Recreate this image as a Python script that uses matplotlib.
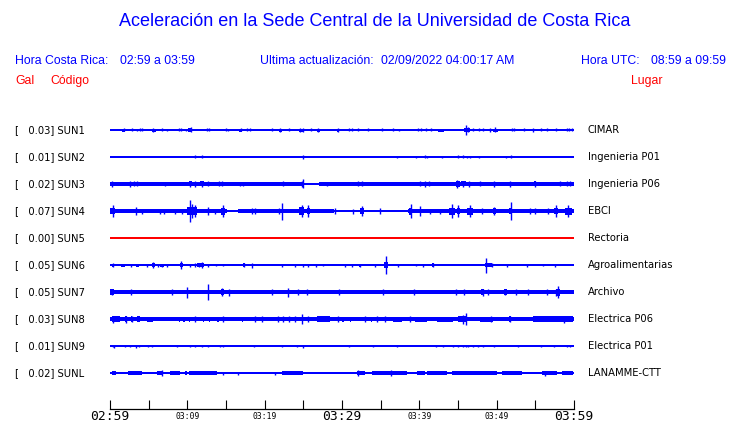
import matplotlib
matplotlib.use("Agg")
import matplotlib.pyplot as plt
from matplotlib.ticker import FixedLocator, FixedFormatter

# ---------------- data ----------------
TITLE = "Aceleración en la Sede Central de la Universidad de Costa Rica"
HORA_CR = "02:59 a 03:59"
ULTIMA = "02/09/2022 04:00:17 AM"
HORA_UTC = "08:59 a 09:59"

codes = ["SUN1", "SUN2", "SUN3", "SUN4", "SUN5", "SUN6", "SUN7", "SUN8", "SUN9", "SUNL"]
gal = [0.03, 0.01, 0.02, 0.07, 0.00, 0.05, 0.05, 0.03, 0.01, 0.02]
places = ["CIMAR", "Ingenieria P01", "Ingenieria P06", "EBCI", "Rectoria",
          "Agroalimentarias", "Archivo", "Electrica P06", "Electrica P01", "LANAMME-CTT"]
trace_colors = ["#0000ff"] * 4 + ["#ff0000"] + ["#0000ff"] * 5

major_ticks = [0, 30, 60]                   # minutes after 02:59
major_labels = ["02:59", "03:29", "03:59"]
minor_ticks = [5, 10, 15, 20, 25, 35, 40, 45, 50, 55]
minor_labels = ["", "03:09", "", "03:19", "", "", "03:39", "", "03:49", ""]

# envelope of each trace: base band (t0, t1, half-amplitude px),
# bursts (t0, t1, half-amplitude px), spikes (t, half-amplitude px)
base_SUN1 = [(0, 60, 0.75)]
bursts_SUN1 = [(1.6, 2.0, 1.5), (5.4, 5.9, 1.5), (10.1, 10.6, 1.8), (16.7, 17.1, 1.5),
               (21.8, 22.2, 1.5), (24.4, 25.1, 1.5), (26.8, 27.1, 1.5), (29.3, 29.6, 1.5),
               (42.4, 43.2, 1.5), (45.8, 46.5, 2.0), (49.5, 50.2, 1.5)]
spikes_SUN1 = [(1.8, 1.5), (2.8, 1.5), (3.45, 1.2), (3.9, 1.5), (4.1, 1.5), (5.6, 2), (6.75, 1.5),
               (7.35, 1.2), (8.9, 1.5), (9.15, 1.5), (9.8, 1.2), (10.45, 2.5), (12.5, 1.5),
               (12.85, 1.5), (14.95, 1.5), (15.3, 1.2), (16.9, 1.5), (17.75, 1.5), (18.15, 1.5),
               (20.9, 1.5), (22.0, 1.8), (23.1, 1.5), (24.55, 2), (25.0, 2), (25.95, 1.5),
               (26.95, 1.8), (29.5, 1.8), (30.95, 1.5), (31.25, 1.5), (32.1, 1.5), (33.4, 1.5),
               (35.15, 1.5), (36.65, 1.5), (37.4, 1.2), (39.85, 1.5), (40.2, 1.5), (40.85, 1.5),
               (41.45, 1.5), (46.05, 5), (46.35, 2.5), (46.9, 1.5), (47.7, 1.5), (48.25, 1.5),
               (49.2, 2), (49.8, 2.5), (51.95, 1.5), (52.2, 1.5), (53.55, 1.5), (54.65, 1.8),
               (55.75, 1.5), (56.55, 1.5), (57.65, 1.5), (59.05, 1.5), (59.4, 1.5), (59.7, 1.5)]

base_SUN2 = [(0, 60, 0.65)]
bursts_SUN2 = []
spikes_SUN2 = [(10.95, 1.5), (11.95, 1.5), (25.0, 2), (37.05, 1), (39.55, 1), (40.75, 1.5),
               (40.95, 1), (42.95, 1), (44.95, 1.5), (45.6, 1.5), (46.15, 1.2), (46.5, 1.2),
               (47.75, 1), (51.15, 1), (51.8, 1.5)]

base_SUN3 = [(0, 25.1, 1.9), (25.1, 27.0, 0.65), (27.0, 60, 1.9)]
bursts_SUN3 = [(0.0, 0.4, 2.4), (10.2, 10.6, 2.5), (11.7, 12.2, 2.5), (44.8, 45.2, 2.9),
               (45.4, 46.0, 2.5), (54.8, 55.1, 2.5)]
spikes_SUN3 = [(0.2, 2.8), (2.6, 2.8), (3.15, 2.5), (3.55, 2.5), (7.1, 2.2), (10.35, 2.8),
               (11.0, 3), (11.95, 2.8), (12.65, 2.5), (14.15, 2.5), (14.5, 2.5), (16.8, 2.2),
               (17.25, 2.2), (22.35, 2.5), (24.8, 3), (25.0, 4.5), (28.0, 2.2), (32.1, 2.5),
               (32.55, 2.5), (40.1, 2.5), (40.75, 2.8), (41.25, 2.5), (44.9, 4.2), (45.65, 2.8),
               (46.4, 2.8), (47.9, 2.5), (49.7, 2.8), (51.75, 2.8), (54.95, 2.8), (58.2, 2.5),
               (59.05, 2.5), (59.45, 2.5)]

base_SUN4 = [(0, 15.1, 2.0), (15.1, 16.6, 0.75), (16.6, 29.0, 2.0), (29.0, 38.5, 1.3), (38.5, 60, 2.1)]
bursts_SUN4 = [(0.0, 0.7, 3.0), (9.9, 11.3, 4.0), (14.3, 14.9, 3.5), (24.5, 25.1, 4.0),
               (25.5, 25.9, 3.0), (32.3, 32.9, 2.8), (38.7, 39.1, 3.5), (43.9, 44.6, 3.5),
               (44.9, 45.3, 3.0), (46.2, 46.9, 3.5), (49.5, 49.9, 2.8), (51.6, 52.0, 3.0),
               (57.4, 57.9, 3.0), (58.9, 59.7, 3.5)]
spikes_SUN4 = [(0.35, 6.3), (3.35, 4), (4.1, 2.5), (6.5, 2.5), (7.0, 2.5), (8.4, 2.5), (9.3, 2.5),
               (10.35, 11), (10.6, 7), (11.0, 6), (12.65, 4), (13.6, 2.5), (14.55, 6), (18.3, 3),
               (18.75, 3), (21.9, 3), (22.2, 8.5), (24.8, 6), (25.65, 6), (29.1, 3), (31.45, 2.5),
               (32.55, 5), (34.9, 3), (38.9, 7), (40.1, 5), (41.4, 2.5), (42.65, 2.5), (44.2, 7),
               (45.05, 6), (46.55, 6), (48.05, 3), (49.65, 4), (51.8, 9), (54.3, 3), (54.95, 3),
               (56.7, 3), (57.65, 6), (59.25, 6)]

base_SUN5 = [(0, 60, 0.8)]
bursts_SUN5 = []
spikes_SUN5 = []

base_SUN6 = [(0, 60, 0.75)]
bursts_SUN6 = [(0.2, 0.5, 1.5), (1.4, 1.9, 1.5), (3.4, 3.8, 1.5), (5.4, 5.8, 2.0), (6.5, 7.0, 1.5),
               (9.0, 9.5, 2.2), (11.3, 12.1, 1.8), (17.2, 17.5, 1.8), (32.2, 32.5, 1.5),
               (35.4, 36.0, 2.6), (41.6, 41.9, 1.8), (43.5, 44.6, 1.4), (44.8, 46.4, 1.4),
               (46.9, 47.4, 1.4), (48.5, 49.4, 1.6), (55.8, 56.1, 1.2), (57.4, 57.7, 1.4),
               (59.0, 59.9, 1.4)]
spikes_SUN6 = [(0.35, 2), (2.7, 1.5), (4.75, 1.5), (5.6, 2.8), (6.25, 1.5), (6.75, 1.5), (7.35, 1.5),
               (9.2, 3.7), (10.35, 1.5), (11.0, 1.8), (11.5, 1.8), (11.95, 3), (12.7, 1.5),
               (13.7, 1.2), (14.65, 1.2), (17.35, 2), (18.3, 2.5), (22.2, 1.5), (23.9, 1.5),
               (24.9, 1.5), (25.65, 1.5), (26.65, 1.5), (27.5, 1.2), (30.4, 1.5), (31.25, 1.5),
               (32.35, 1.5), (34.25, 1.5), (35.7, 8.7), (37.3, 1.5), (39.55, 1.2), (40.5, 1.5),
               (41.75, 2), (48.6, 7.5), (49.35, 2), (51.3, 1.5), (53.9, 1.5), (55.95, 1.2),
               (57.55, 1.5)]

base_SUN7 = [(0, 60, 2.4)]
bursts_SUN7 = [(0.0, 0.5, 2.9), (14.3, 14.7, 3.0), (48.0, 48.4, 3.0), (51.0, 51.3, 3.0),
               (57.7, 58.2, 3.5)]
spikes_SUN7 = [(0.2, 3), (2.7, 2.8), (8.0, 3), (9.9, 5.5), (12.65, 8.3), (14.45, 4), (15.45, 3.5),
               (20.9, 2.7), (23.05, 4.5), (24.35, 3), (25.45, 2.7), (29.65, 2.8), (35.25, 3),
               (39.3, 2.7), (44.7, 2.7), (45.8, 2.7), (48.2, 3.5), (48.9, 3), (51.1, 3), (52.5, 3),
               (54.1, 3), (56.45, 2.7), (57.7, 3.5), (57.95, 6)]

base_SUN8 = [(0, 60, 2.15)]
bursts_SUN8 = [(0.2, 1.3, 2.7), (1.9, 2.2, 3.0), (2.7, 2.9, 2.8), (3.45, 3.9, 2.7), (4.75, 5.6, 2.5),
               (8.9, 9.0, 2.5), (9.5, 9.7, 2.5), (10.2, 10.3, 2.5), (12.0, 12.1, 2.5),
               (12.8, 12.9, 2.5), (13.9, 14.1, 2.5), (16.1, 16.2, 2.5), (17.1, 17.2, 2.5),
               (26.75, 28.45, 2.6), (30.0, 30.2, 2.5), (31.0, 31.1, 2.5), (33.8, 33.9, 2.5),
               (36.65, 37.7, 2.5), (39.45, 40.95, 2.5), (42.25, 44.4, 2.5), (45.05, 46.1, 3.0),
               (47.85, 49.55, 2.5), (51.6, 51.8, 2.8), (54.75, 59.9, 2.6)]
spikes_SUN8 = [(0.35, 3.5), (2.05, 3.5), (2.8, 3), (11.0, 3.3), (14.55, 2.7), (18.75, 2.7),
               (19.6, 2.7), (21.75, 2.7), (22.4, 2.7), (23.2, 2.7), (23.9, 2.7), (24.85, 5),
               (25.65, 2.8), (29.5, 2.8), (33.0, 2.7), (34.5, 2.7), (35.55, 2.7), (38.8, 2.7),
               (45.6, 4.5), (46.05, 6), (49.3, 3), (51.7, 3.2), (58.7, 3.5)]

base_SUN9 = [(0, 60, 0.65)]
bursts_SUN9 = [(24.7, 25.0, 1.3), (37.05, 37.5, 1.3), (51.5, 51.8, 1.3)]
spikes_SUN9 = [(0.35, 1.3), (0.5, 1.5), (1.95, 1.3), (2.6, 1.3), (3.35, 1.5), (3.8, 1.3), (4.85, 1.3),
               (5.4, 1.3), (8.6, 1.2), (10.35, 1.3), (11.0, 1.3), (11.85, 1.2), (12.7, 1.3),
               (14.2, 1.2), (14.65, 1.2), (18.65, 1.2), (22.3, 1.3), (24.15, 1.3), (24.9, 1.5),
               (30.95, 1.2), (34.05, 1.2), (37.05, 1.3), (42.15, 1.2), (43.0, 1.3), (44.4, 1.3),
               (45.05, 1.3), (45.6, 1.3), (46.0, 1.3), (46.35, 1.3), (47.0, 1.3), (47.6, 1.3),
               (48.25, 1.2), (49.7, 1.3), (52.8, 1.2), (55.75, 1.2), (57.45, 1.2), (59.05, 1.2),
               (59.5, 1.3)]

base_SUNL = [(0, 60, 0.65)]
bursts_SUNL = [(0.2, 0.8, 1.6), (1.5, 1.95, 1.4), (2.35, 4.1, 1.6), (4.3, 4.95, 1.4), (6.1, 6.9, 1.6),
               (7.75, 9.05, 1.6), (9.7, 10.0, 1.6), (10.25, 13.8, 1.6), (18.6, 18.95, 1.4),
               (22.2, 25.0, 1.6), (26.3, 27.15, 1.4), (28.0, 28.45, 1.4), (28.9, 29.5, 1.4),
               (31.25, 31.9, 1.4), (31.9, 32.95, 1.6), (33.85, 35.8, 1.6), (35.8, 38.35, 1.6),
               (38.6, 39.0, 1.4), (39.65, 40.75, 1.6), (40.95, 43.55, 1.6), (44.2, 47.0, 1.6),
               (47.0, 50.0, 1.6), (50.65, 53.25, 1.6), (53.9, 54.5, 1.4), (54.75, 55.15, 1.4),
               (55.8, 57.75, 1.8), (58.4, 59.9, 1.6)]
spikes_SUNL = [(6.7, 3), (14.55, 1.5), (16.6, 1.5), (21.35, 1.5), (32.1, 2.8), (36.4, 3), (56.2, 2.5)]

bases = [base_SUN1, base_SUN2, base_SUN3, base_SUN4, base_SUN5,
         base_SUN6, base_SUN7, base_SUN8, base_SUN9, base_SUNL]
bursts = [bursts_SUN1, bursts_SUN2, bursts_SUN3, bursts_SUN4, bursts_SUN5,
          bursts_SUN6, bursts_SUN7, bursts_SUN8, bursts_SUN9, bursts_SUNL]
spikes = [spikes_SUN1, spikes_SUN2, spikes_SUN3, spikes_SUN4, spikes_SUN5,
          spikes_SUN6, spikes_SUN7, spikes_SUN8, spikes_SUN9, spikes_SUNL]

# ---------------- layout ----------------
W, H = 740, 423
fig = plt.figure(figsize=(W / 100, H / 100), dpi=100)
fig.patch.set_facecolor("white")

def fx(x):
    return x / W

def fy(y):
    return 1 - y / H

BLUE = "#0000ff"
RED = "#ff0000"
SANS = ["Liberation Sans", "DejaVu Sans"]

x0, x1 = 110, 574
y_top, y_axis = 112, 409
ax = fig.add_axes([fx(x0), fy(y_axis), (x1 - x0) / W, (y_axis - y_top) / H])
ax.set_xlim(0, 60)
ax.set_ylim(y_axis, y_top)  # y in pixels from top of figure

row0, dy = 130, 27
for i in range(len(codes)):
    yc = row0 + dy * i
    col = trace_colors[i]
    for (t0, t1, a) in bases[i] + bursts[i]:
        ax.fill_between([t0, t1], [yc - a] * 2, [yc + a] * 2, color=col, lw=0)
    if spikes[i]:
        ts = [s[0] for s in spikes[i]]
        amps = [s[1] for s in spikes[i]]
        ax.vlines(ts, [yc - a for a in amps], [yc + a for a in amps], color=col, lw=1.0)
    fig.text(fx(15), fy(yc), f"[   {gal[i]:.2f}] {codes[i]}", fontsize=7.2,
             family="DejaVu Sans", color="black", va="center", ha="left")
    fig.text(fx(588), fy(yc), places[i], fontsize=7.2,
             family="DejaVu Sans", color="black", va="center", ha="left")

for s in ["top", "left", "right"]:
    ax.spines[s].set_visible(False)
ax.spines["bottom"].set_linewidth(0.9)
ax.set_yticks([])
ax.xaxis.set_major_locator(FixedLocator(major_ticks))
ax.xaxis.set_major_formatter(FixedFormatter(major_labels))
ax.xaxis.set_minor_locator(FixedLocator(minor_ticks))
ax.xaxis.set_minor_formatter(FixedFormatter(minor_labels))
ax.tick_params(axis="x", which="both", direction="in", length=6.5, width=0.8, color="black")
ax.tick_params(axis="x", which="major", pad=1.0, labelsize=9.4)
ax.tick_params(axis="x", which="minor", pad=2.4, labelsize=5.8)
for lab in ax.get_xticklabels(which="both"):
    lab.set_family("DejaVu Sans Mono")

# ---------------- header texts ----------------
fig.text(fx(374.5), fy(21), TITLE, fontsize=12.95, family=SANS, color=BLUE, ha="center", va="center")
hs = 8.8
fig.text(fx(15), fy(61), "Hora Costa Rica:", fontsize=hs, family=SANS, color=BLUE, va="center")
fig.text(fx(120), fy(61), HORA_CR, fontsize=hs, family=SANS, color=BLUE, va="center")
fig.text(fx(260), fy(61), "Ultima actualización:", fontsize=hs, family=SANS, color=BLUE, va="center")
fig.text(fx(381), fy(61), ULTIMA, fontsize=hs, family=SANS, color=BLUE, va="center")
fig.text(fx(581), fy(61), "Hora UTC:", fontsize=hs, family=SANS, color=BLUE, va="center")
fig.text(fx(651), fy(61), HORA_UTC, fontsize=hs, family=SANS, color=BLUE, va="center")
fig.text(fx(15), fy(81), "Gal", fontsize=hs, family=SANS, color=RED, va="center")
fig.text(fx(50), fy(81), "Código", fontsize=hs, family=SANS, color=RED, va="center")
fig.text(fx(631), fy(81), "Lugar", fontsize=hs, family=SANS, color=RED, va="center")

fig.savefig("out.png", dpi=100, facecolor="white")
